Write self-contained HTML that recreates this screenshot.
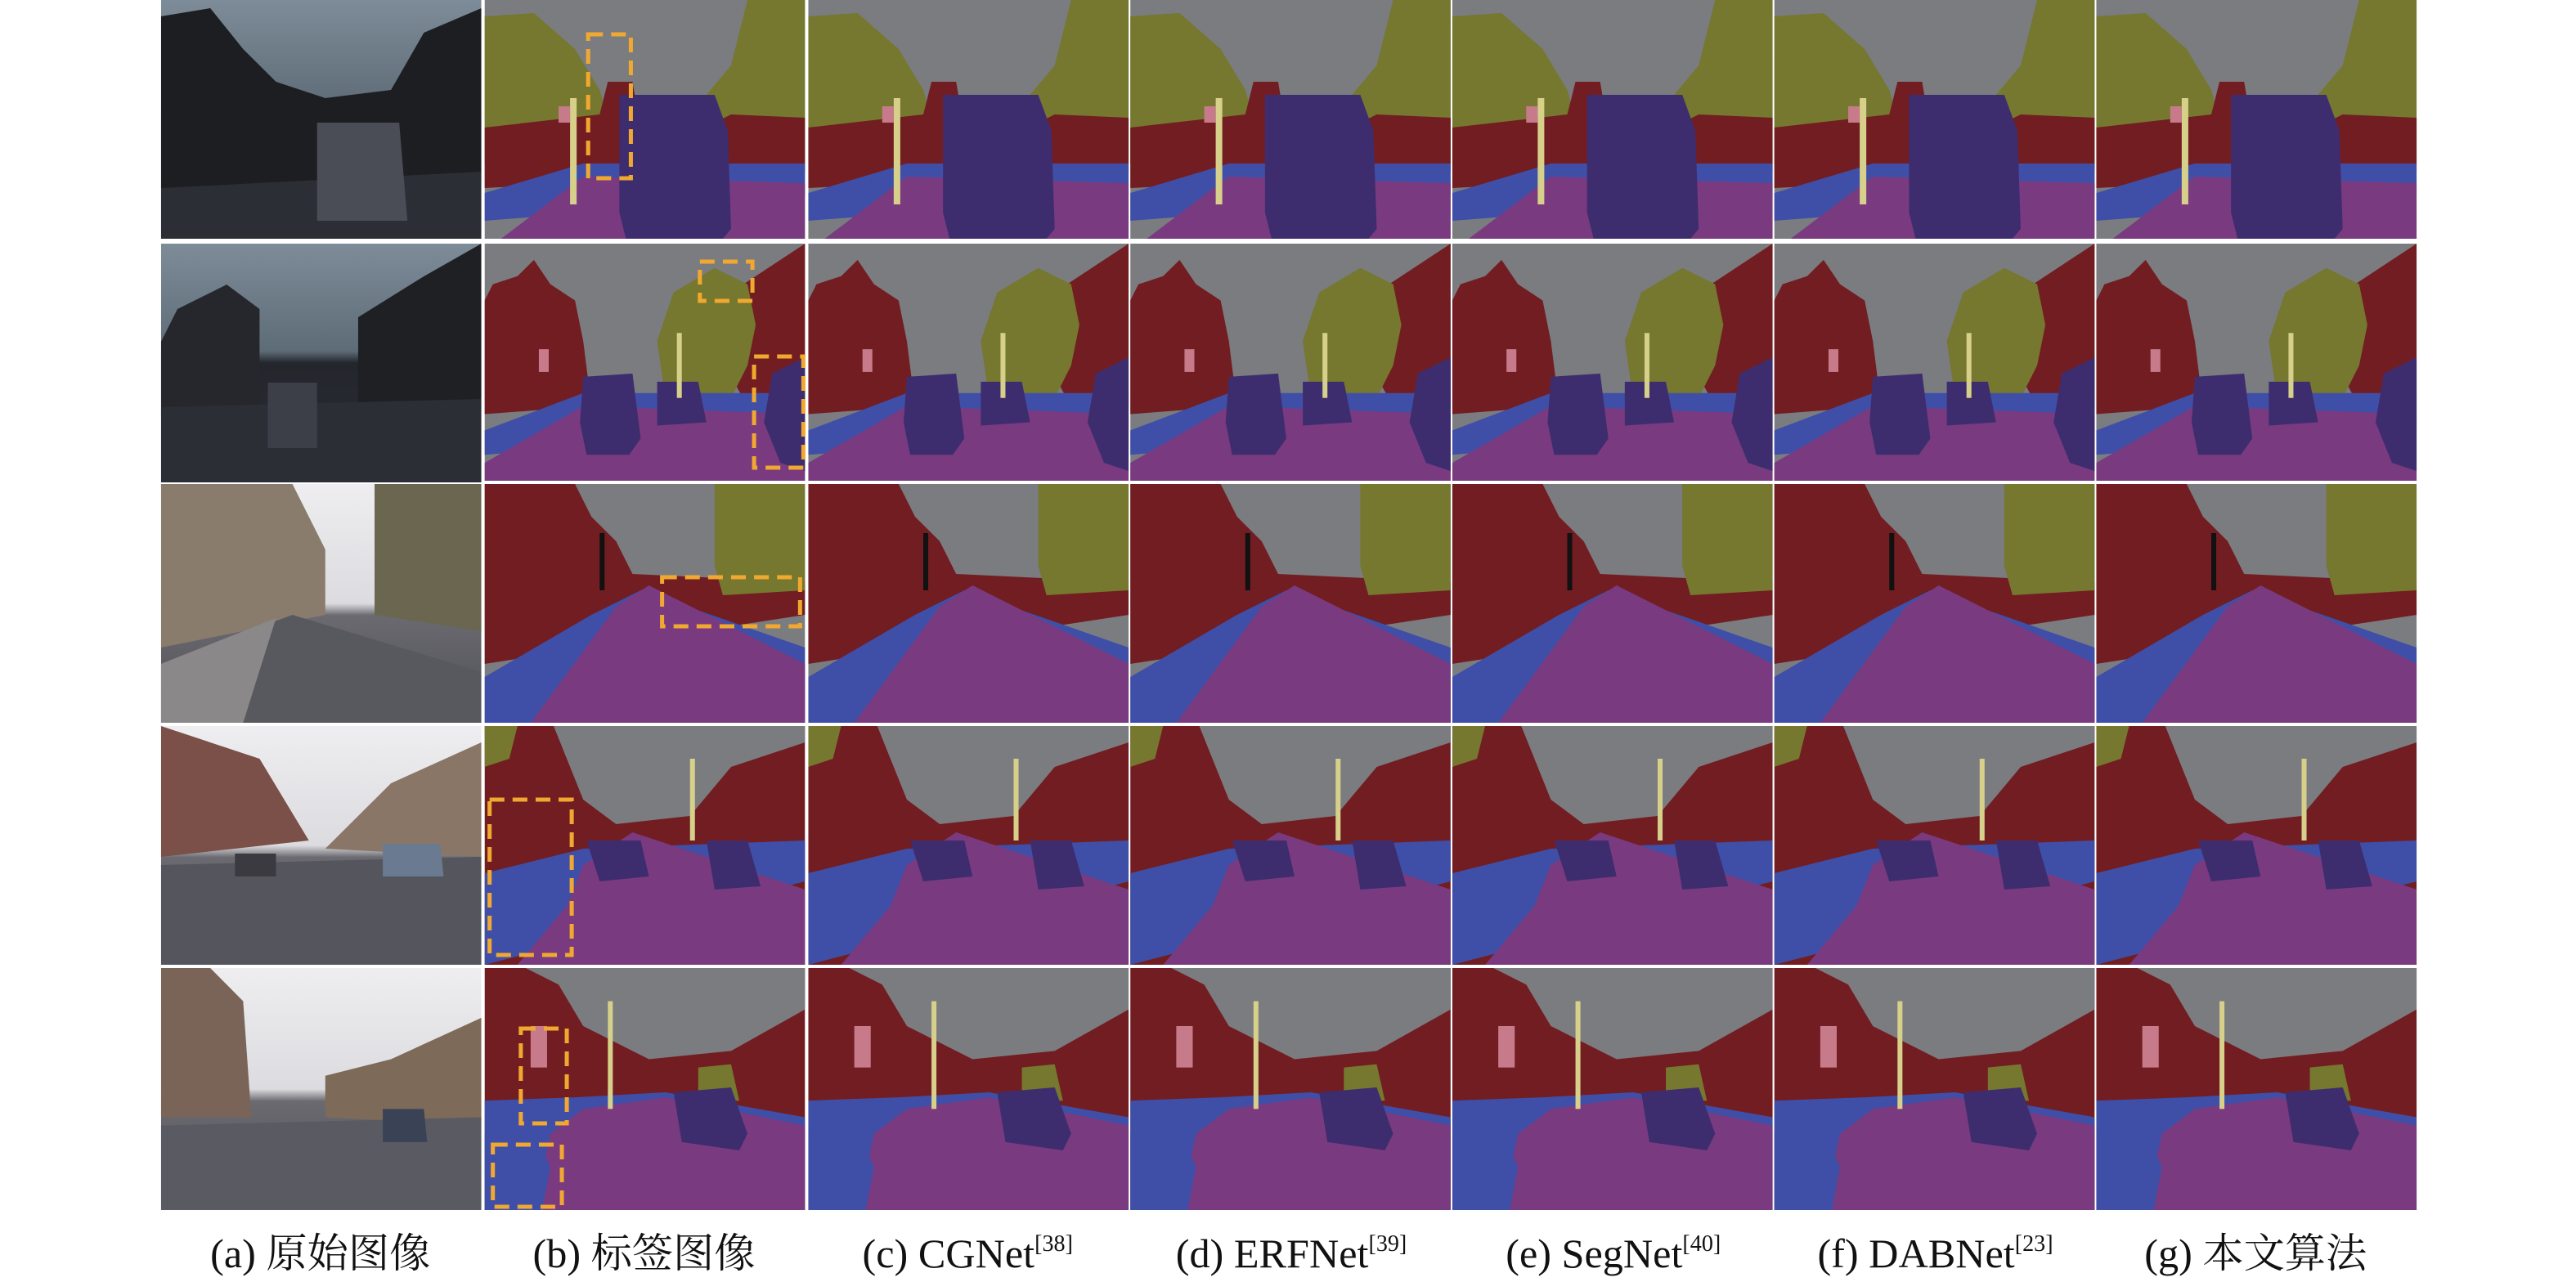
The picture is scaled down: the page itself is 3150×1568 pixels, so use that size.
<!DOCTYPE html>
<html><head><meta charset="utf-8">
<style>
html,body{margin:0;padding:0;background:#fff;}
svg{display:block;}
text{font-family:"Liberation Serif","Noto Serif CJK SC",serif;}
</style></head>
<body>
<svg width="3150" height="1568" viewBox="0 0 1568 784" preserveAspectRatio="none" xmlns="http://www.w3.org/2000/svg">
<defs>
<!-- segmentation rows, local 195x146 -->
<symbol id="s1" viewBox="0 0 195 146" preserveAspectRatio="none">
<rect width="195" height="146" fill="#7a7c80"/>
<path d="M0 10 L30 8 L55 30 L70 55 L80 90 L0 100Z" fill="#75782e"/>
<path d="M195 0 L160 0 L150 40 L125 70 L115 100 L195 100Z" fill="#75782e"/>
<path d="M0 78 L70 70 L75 50 L90 50 L95 80 L140 75 L150 70 L195 72 L195 105 L0 115Z" fill="#721d22"/>
<path d="M0 118 L60 100 L195 100 L195 120 L0 135Z" fill="#3f4fa8"/>
<path d="M10 146 L60 108 L195 112 L195 146Z" fill="#7a3a80"/>
<path d="M82 58 L140 58 L148 80 L150 140 L145 146 L86 146 L82 130Z" fill="#3e2d6e"/>
<rect x="52" y="60" width="4" height="65" fill="#d6d08a"/>
<rect x="45" y="65" width="7" height="10" fill="#c77b8a"/>
</symbol>
<symbol id="s2" viewBox="0 0 195 146" preserveAspectRatio="none">
<rect width="195" height="146" fill="#7a7c80"/>
<path d="M0 35 L5 25 L20 20 L30 10 L40 25 L55 35 L60 60 L65 100 L0 105Z" fill="#721d22"/>
<path d="M195 0 L150 30 L135 55 L160 100 L195 100Z" fill="#721d22"/>
<path d="M115 30 L140 15 L160 25 L165 50 L160 75 L150 95 L110 95 L105 60Z" fill="#75782e"/>
<path d="M0 115 L60 92 L195 92 L195 115 L0 130Z" fill="#3f4fa8"/>
<path d="M0 146 L0 135 L60 100 L195 105 L195 146Z" fill="#7a3a80"/>
<path d="M60 82 L90 80 L95 120 L88 130 L62 130 L58 110Z" fill="#3e2d6e"/>
<path d="M105 85 L130 85 L135 110 L105 112Z" fill="#3e2d6e"/>
<path d="M175 80 L195 70 L195 140 L180 135 L170 110Z" fill="#3e2d6e"/>
<rect x="33" y="65" width="6" height="14" fill="#c77b8a"/>
<rect x="117" y="55" width="3" height="40" fill="#d6d08a"/>
</symbol>
<symbol id="s3" viewBox="0 0 195 146" preserveAspectRatio="none">
<rect width="195" height="146" fill="#7a7c80"/>
<path d="M0 0 L55 0 L65 20 L80 35 L90 55 L195 60 L195 80 L0 110Z" fill="#721d22"/>
<path d="M140 0 L195 0 L195 65 L145 68 L140 50Z" fill="#75782e"/>
<path d="M0 118 L65 80 L95 65 L195 100 L195 146 L0 146Z" fill="#3f4fa8"/>
<path d="M28 146 L80 75 L100 62 L195 110 L195 146Z" fill="#7a3a80"/>
<rect x="70" y="30" width="3" height="35" fill="#111"/>
</symbol>
<symbol id="s4" viewBox="0 0 195 146" preserveAspectRatio="none">
<rect width="195" height="146" fill="#721d22"/>
<path d="M42 0 L195 0 L195 10 L150 25 L125 55 L80 60 L60 45Z" fill="#7a7c80"/>
<path d="M0 0 L20 0 L15 20 L0 25Z" fill="#75782e"/>
<path d="M0 90 L60 75 L195 70 L195 95 L0 146Z" fill="#3f4fa8"/>
<path d="M20 146 L50 110 L60 85 L90 65 L195 100 L195 146Z" fill="#7a3a80"/>
<path d="M62 70 L95 70 L100 92 L70 95Z" fill="#3e2d6e"/>
<path d="M135 70 L160 70 L168 98 L140 100Z" fill="#3e2d6e"/>
<rect x="125" y="20" width="3" height="50" fill="#d6d08a"/>
</symbol>
<symbol id="s5" viewBox="0 0 195 146" preserveAspectRatio="none">
<rect width="195" height="146" fill="#721d22"/>
<path d="M25 0 L195 0 L195 25 L150 50 L100 55 L60 35 L45 10Z" fill="#7a7c80"/>
<path d="M0 80 L55 78 L110 75 L195 90 L195 146 L0 146Z" fill="#3f4fa8"/>
<path d="M30 146 L40 100 L60 85 L110 78 L195 95 L195 146Z" fill="#7a3a80"/>
<path d="M0 100 L30 98 L40 120 L35 146 L0 146Z" fill="#3f4fa8"/>
<path d="M130 60 L150 58 L155 80 L130 80Z" fill="#75782e"/>
<path d="M115 75 L150 72 L160 100 L155 110 L120 105Z" fill="#3e2d6e"/>
<rect x="75" y="20" width="3" height="65" fill="#d6d08a"/>
<rect x="28" y="35" width="10" height="25" fill="#c77b8a"/>
</symbol>
<!-- photos -->
<linearGradient id="dk" x1="0" y1="0" x2="0" y2="1"><stop offset="0" stop-color="#7d8c98"/><stop offset="0.45" stop-color="#5e6c78"/><stop offset="0.5" stop-color="#23262c"/><stop offset="1" stop-color="#2b2d34"/></linearGradient>
<linearGradient id="lt" x1="0" y1="0" x2="0" y2="1"><stop offset="0" stop-color="#eeeef0"/><stop offset="0.5" stop-color="#dcdce0"/><stop offset="0.55" stop-color="#6a6a70"/><stop offset="1" stop-color="#4e4f55"/></linearGradient>
<symbol id="p1" viewBox="0 0 195 146" preserveAspectRatio="none">
<rect width="195" height="146" fill="url(#dk)"/>
<path d="M0 10 L30 5 L50 30 L70 50 L100 60 L140 55 L160 20 L195 5 L195 110 L0 115Z" fill="#1c1e22"/>
<path d="M0 115 L195 105 L195 146 L0 146Z" fill="#2c2e35"/>
<path d="M95 75 L145 75 L150 135 L95 135Z" fill="#4a4c56"/>
</symbol>
<symbol id="p2" viewBox="0 0 195 146" preserveAspectRatio="none">
<rect width="195" height="146" fill="url(#dk)"/>
<path d="M0 60 L10 40 L40 25 L60 40 L60 100 L0 105Z" fill="#25272c"/>
<path d="M120 45 L160 20 L195 0 L195 100 L120 100Z" fill="#1e2024"/>
<path d="M0 100 L195 95 L195 146 L0 146Z" fill="#2c2e36"/>
<path d="M65 85 L95 85 L95 125 L65 125Z" fill="#3c3e48"/>
</symbol>
<symbol id="p3" viewBox="0 0 195 146" preserveAspectRatio="none">
<rect width="195" height="146" fill="url(#lt)"/>
<path d="M0 0 L80 0 L90 20 L100 40 L100 80 L0 100Z" fill="#8a7c6c"/>
<path d="M130 0 L195 0 L195 90 L130 80Z" fill="#6a6650"/>
<path d="M0 110 L80 80 L195 115 L195 146 L0 146Z" fill="#58595f"/>
<path d="M0 110 L70 82 L50 146 L0 146Z" fill="#8a8888"/>
</symbol>
<symbol id="p4" viewBox="0 0 195 146" preserveAspectRatio="none">
<rect width="195" height="146" fill="url(#lt)"/>
<path d="M0 0 L60 20 L90 70 L0 80Z" fill="#7a5048"/>
<path d="M195 10 L140 35 L100 75 L195 80Z" fill="#8a7666"/>
<path d="M0 85 L195 80 L195 146 L0 146Z" fill="#55565d"/>
<path d="M45 78 L70 78 L70 92 L45 92Z" fill="#3a3a40"/><path d="M135 72 L170 72 L172 92 L135 92Z" fill="#6a7a90"/>
</symbol>
<symbol id="p5" viewBox="0 0 195 146" preserveAspectRatio="none">
<rect width="195" height="146" fill="url(#lt)"/>
<path d="M0 0 L30 0 L50 20 L55 90 L0 90Z" fill="#7a6458"/>
<path d="M195 30 L140 55 L100 65 L100 90 L195 95Z" fill="#7e6a58"/>
<path d="M0 95 L195 90 L195 146 L0 146Z" fill="#5a5b62"/>
<path d="M135 85 L160 85 L162 105 L135 105Z" fill="#3a4256"/>
</symbol>
</defs>

<g>
<use href="#p1" x="98" y="0" width="195" height="146"/>
<use href="#p2" x="98" y="149" width="195" height="146"/>
<use href="#p3" x="98" y="296" width="195" height="146"/>
<use href="#p4" x="98" y="444" width="195" height="146"/>
<use href="#p5" x="98" y="592" width="195" height="148"/>
</g>
<g>
<use href="#s1" x="295" y="0" width="195" height="146"/><use href="#s1" x="492" y="0" width="195" height="146"/><use href="#s1" x="688" y="0" width="195" height="146"/><use href="#s1" x="884" y="0" width="195" height="146"/><use href="#s1" x="1080" y="0" width="195" height="146"/><use href="#s1" x="1276" y="0" width="195" height="146"/>
<use href="#s2" x="295" y="149" width="195" height="145"/><use href="#s2" x="492" y="149" width="195" height="145"/><use href="#s2" x="688" y="149" width="195" height="145"/><use href="#s2" x="884" y="149" width="195" height="145"/><use href="#s2" x="1080" y="149" width="195" height="145"/><use href="#s2" x="1276" y="149" width="195" height="145"/>
<use href="#s3" x="295" y="296" width="195" height="146"/><use href="#s3" x="492" y="296" width="195" height="146"/><use href="#s3" x="688" y="296" width="195" height="146"/><use href="#s3" x="884" y="296" width="195" height="146"/><use href="#s3" x="1080" y="296" width="195" height="146"/><use href="#s3" x="1276" y="296" width="195" height="146"/>
<use href="#s4" x="295" y="444" width="195" height="146"/><use href="#s4" x="492" y="444" width="195" height="146"/><use href="#s4" x="688" y="444" width="195" height="146"/><use href="#s4" x="884" y="444" width="195" height="146"/><use href="#s4" x="1080" y="444" width="195" height="146"/><use href="#s4" x="1276" y="444" width="195" height="146"/>
<use href="#s5" x="295" y="592" width="195" height="148"/><use href="#s5" x="492" y="592" width="195" height="148"/><use href="#s5" x="688" y="592" width="195" height="148"/><use href="#s5" x="884" y="592" width="195" height="148"/><use href="#s5" x="1080" y="592" width="195" height="148"/><use href="#s5" x="1276" y="592" width="195" height="148"/>
</g>
<g fill="none" stroke="#f0a830" stroke-width="2.5" stroke-dasharray="9,5">
<rect x="358" y="21" width="26" height="88"/>
<rect x="426" y="160" width="32" height="24"/>
<rect x="459" y="218" width="30" height="68"/>
<rect x="403" y="353" width="84" height="30"/>
<rect x="298" y="489" width="50" height="95"/>
<rect x="317" y="629" width="28" height="58"/>
<rect x="300" y="700" width="42" height="38"/>
</g>
<g font-size="25" fill="#111" text-anchor="middle">
<text x="195" y="775">(a) 原始图像</text>
<text x="392" y="775">(b) 标签图像</text>
<text x="589" y="775">(c) CGNet<tspan font-size="14" dy="-10">[38]</tspan></text>
<text x="786" y="775">(d) ERFNet<tspan font-size="14" dy="-10">[39]</tspan></text>
<text x="982" y="775">(e) SegNet<tspan font-size="14" dy="-10">[40]</tspan></text>
<text x="1178" y="775">(f) DABNet<tspan font-size="14" dy="-10">[23]</tspan></text>
<text x="1373" y="775">(g) 本文算法</text>
</g>
</svg>
</body></html>
